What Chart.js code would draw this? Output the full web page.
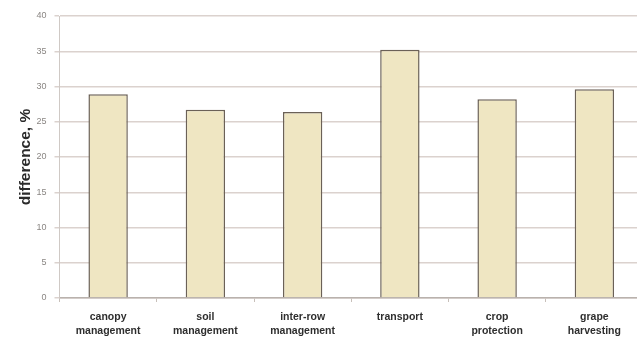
<!DOCTYPE html>
<html>
<head>
<meta charset="utf-8">
<script src="https://cdn.jsdelivr.net/npm/chart.js@4/dist/chart.umd.min.js"></script>
<style>
  html, body { margin: 0; padding: 0; background: #fff; overflow: hidden; }
  #wrap { width: 650px; height: 337px; }
</style>
</head>
<body>
<div id="wrap"><canvas id="c" width="650" height="337"></canvas></div>
<script>
// Vineyard operations and the percentage difference for each
const categories = [
  ["canopy", "management"],
  ["soil", "management"],
  ["inter-row", "management"],
  "transport",
  ["crop", "protection"],
  ["grape", "harvesting"]
];
const differences = [28.9, 26.7, 26.4, 35.2, 28.2, 29.6];
const yTicks = [0, 5, 10, 15, 20, 25, 30, 35, 40];

new Chart(document.getElementById('c'), {
  type: 'bar',
  data: {
    labels: categories,
    datasets: [{
      data: differences,
      backgroundColor: '#efe6c2',
      borderColor: '#6b6157',
      borderWidth: 1.5,
      barPercentage: 0.405,
      categoryPercentage: 1.0
    }]
  },
  options: {
    responsive: false,
    animation: false,
    layout: { padding: { top: 16, right: 7, left: 0, bottom: 0 } },
    plugins: { legend: { display: false }, tooltip: { enabled: false } },
    scales: {
      x: {
        grid: { display: true, drawOnChartArea: false, offset: true, tickLength: 4, color: '#c8c0ba' },
        border: { color: '#b9b2ad', width: 1.5 },
        ticks: {
          color: '#2e2e2e',
          font: { family: 'Liberation Sans', size: 10.5, weight: 'bold', lineHeight: 1.33 },
          padding: 8,
          maxRotation: 0,
          autoSkip: false
        },
        afterFit: s => { s.height = 39; }
      },
      y: {
        min: 0,
        max: 40,
        afterBuildTicks: s => { s.ticks = yTicks.map(v => ({ value: v })); },
        grid: { color: '#dbd2ce', lineWidth: 1.5, tickLength: 5 },
        border: { color: '#cfc9c5', width: 1 },
        ticks: {
          color: '#8a8683',
          font: { family: 'Liberation Sans', size: 9 },
          padding: 8
        },
        title: {
          display: true,
          text: 'difference, %',
          color: '#2a2a2a',
          font: { family: 'Liberation Sans', size: 15.5, weight: 'bold' },
          padding: { top: 16, bottom: 2 }
        },
        afterFit: s => { s.width = 59.5; }
      }
    }
  }
});
</script>
</body>
</html>
